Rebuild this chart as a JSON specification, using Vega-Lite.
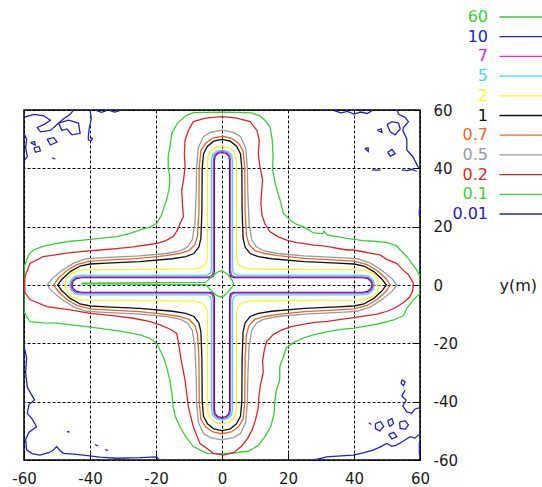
{
"$schema":"https://vega.github.io/schema/vega-lite/v6.json",
"width":396,"height":350,
"autosize":{"type":"none"},
"padding":{"left":24,"top":110,"right":122,"bottom":27},
"background":"white",
"config":{"font":"DejaVu Sans","view":{"stroke":"#000","strokeWidth":1.5}},
"data":{"values":[
{"c":"0.01","s":"n1","x":-60,"y":57.5},{"c":"0.01","s":"n1","x":-57,"y":58.5},{"c":"0.01","s":"n1","x":-54,"y":58},{"c":"0.01","s":"n1","x":-52,"y":56.5},{"c":"0.01","s":"n1","x":-54,"y":55},{"c":"0.01","s":"n1","x":-56,"y":54},{"c":"0.01","s":"n1","x":-55,"y":52.5},{"c":"0.01","s":"n1","x":-52,"y":53},{"c":"0.01","s":"n1","x":-50,"y":55},{"c":"0.01","s":"n1","x":-48,"y":57},{"c":"0.01","s":"n1","x":-46,"y":58.5},{"c":"0.01","s":"n1","x":-45,"y":60},
{"c":"0.01","s":"n2","x":-53,"y":50},{"c":"0.01","s":"n2","x":-51,"y":50.5},{"c":"0.01","s":"n2","x":-50,"y":49},{"c":"0.01","s":"n2","x":-52,"y":48},{"c":"0.01","s":"n2","x":-53,"y":50},
{"c":"0.01","s":"n3","x":-57,"y":47},{"c":"0.01","s":"n3","x":-55.5,"y":47.5},{"c":"0.01","s":"n3","x":-55,"y":46},{"c":"0.01","s":"n3","x":-56.5,"y":45.5},{"c":"0.01","s":"n3","x":-57,"y":47},
{"c":"0.01","s":"n4","x":-60,"y":52},{"c":"0.01","s":"n4","x":-59.2,"y":50},{"c":"0.01","s":"n4","x":-59.5,"y":47},{"c":"0.01","s":"n4","x":-59,"y":44},{"c":"0.01","s":"n4","x":-60,"y":42.5},
{"c":"0.01","s":"n5","x":-49.5,"y":55.5},{"c":"0.01","s":"n5","x":-46.5,"y":56.5},{"c":"0.01","s":"n5","x":-43.5,"y":55.5},{"c":"0.01","s":"n5","x":-43,"y":52},{"c":"0.01","s":"n5","x":-45.5,"y":51.5},{"c":"0.01","s":"n5","x":-47,"y":53.5},{"c":"0.01","s":"n5","x":-48.5,"y":53},{"c":"0.01","s":"n5","x":-49.5,"y":55.5},
{"c":"0.01","s":"n6","x":-38,"y":59.8},{"c":"0.01","s":"n6","x":-36.5,"y":59.2},{"c":"0.01","s":"n6","x":-35,"y":59.8},
{"c":"0.01","s":"n7","x":-34,"y":59.8},{"c":"0.01","s":"n7","x":-32.5,"y":59.3},{"c":"0.01","s":"n7","x":-31,"y":59.8},
{"c":"0.01","s":"n23","x":-40,"y":60},{"c":"0.01","s":"n23","x":-39.6,"y":57},{"c":"0.01","s":"n23","x":-40.2,"y":54},{"c":"0.01","s":"n23","x":-40.5,"y":51},{"c":"0.01","s":"n23","x":-40.5,"y":49.7},{"c":"0.01","s":"n23","x":-39.5,"y":49.5},{"c":"0.01","s":"n23","x":-39.3,"y":50.3},{"c":"0.01","s":"n23","x":-40,"y":50.6},
{"c":"0.01","s":"n24","x":-58,"y":48.8},{"c":"0.01","s":"n24","x":-56.8,"y":49.2},{"c":"0.01","s":"n24","x":-56.6,"y":48},{"c":"0.01","s":"n24","x":-58,"y":48.8},
{"c":"0.01","s":"n25","x":-51.5,"y":43.6},{"c":"0.01","s":"n25","x":-50.5,"y":43.2},
{"c":"0.01","s":"t1","x":34,"y":59.8},{"c":"0.01","s":"t1","x":36,"y":59},{"c":"0.01","s":"t1","x":38,"y":59.5},{"c":"0.01","s":"t1","x":40,"y":58.6},{"c":"0.01","s":"t1","x":42,"y":59.3},{"c":"0.01","s":"t1","x":44,"y":58.8},{"c":"0.01","s":"t1","x":45.5,"y":59.8},
{"c":"0.01","s":"t2","x":50,"y":55},{"c":"0.01","s":"t2","x":51.5,"y":56},{"c":"0.01","s":"t2","x":53.5,"y":55.5},{"c":"0.01","s":"t2","x":54,"y":53.5},{"c":"0.01","s":"t2","x":52.5,"y":51.5},{"c":"0.01","s":"t2","x":51,"y":52.5},{"c":"0.01","s":"t2","x":50,"y":55},
{"c":"0.01","s":"t3","x":53,"y":60},{"c":"0.01","s":"t3","x":53.5,"y":58.5},{"c":"0.01","s":"t3","x":55.5,"y":57.5},{"c":"0.01","s":"t3","x":56.5,"y":56},{"c":"0.01","s":"t3","x":55,"y":54},{"c":"0.01","s":"t3","x":54.8,"y":53},{"c":"0.01","s":"t3","x":56,"y":50},{"c":"0.01","s":"t3","x":56,"y":46.3},{"c":"0.01","s":"t3","x":57.9,"y":43.9},{"c":"0.01","s":"t3","x":59.4,"y":40.5},{"c":"0.01","s":"t3","x":60,"y":40},
{"c":"0.01","s":"t4","x":43.3,"y":46.8},{"c":"0.01","s":"t4","x":44.3,"y":47},{"c":"0.01","s":"t4","x":44.3,"y":45.8},{"c":"0.01","s":"t4","x":43.3,"y":46.8},
{"c":"0.01","s":"t5","x":50.2,"y":45.5},{"c":"0.01","s":"t5","x":51.5,"y":46.5},{"c":"0.01","s":"t5","x":52.5,"y":45},{"c":"0.01","s":"t5","x":51,"y":44.2},{"c":"0.01","s":"t5","x":50.2,"y":45.5},
{"c":"0.01","s":"t6","x":45.5,"y":39.4},{"c":"0.01","s":"t6","x":48,"y":39.4},
{"c":"0.01","s":"t7","x":54.5,"y":39.5},{"c":"0.01","s":"t7","x":56,"y":39.2},{"c":"0.01","s":"t7","x":57.5,"y":39.6},{"c":"0.01","s":"t7","x":59,"y":39},
{"c":"0.01","s":"t8","x":59.8,"y":26},{"c":"0.01","s":"t8","x":59.8,"y":23.5},
{"c":"0.01","s":"t9","x":47,"y":53},{"c":"0.01","s":"t9","x":48.2,"y":53.5},{"c":"0.01","s":"t9","x":48.5,"y":52.3},{"c":"0.01","s":"t9","x":47,"y":53},
{"c":"0.01","s":"l1","x":-60,"y":-21},{"c":"0.01","s":"l1","x":-59.2,"y":-25},{"c":"0.01","s":"l1","x":-59.5,"y":-30},{"c":"0.01","s":"l1","x":-59,"y":-35},{"c":"0.01","s":"l1","x":-57.8,"y":-37.5},{"c":"0.01","s":"l1","x":-56.8,"y":-39.4},{"c":"0.01","s":"l1","x":-58.5,"y":-41},{"c":"0.01","s":"l1","x":-59,"y":-44},{"c":"0.01","s":"l1","x":-57.5,"y":-46},{"c":"0.01","s":"l1","x":-56.2,"y":-48.6},{"c":"0.01","s":"l1","x":-58.5,"y":-50.5},{"c":"0.01","s":"l1","x":-59.5,"y":-53},{"c":"0.01","s":"l1","x":-59.2,"y":-56.5},{"c":"0.01","s":"l1","x":-57.5,"y":-57.8},{"c":"0.01","s":"l1","x":-55.2,"y":-58.3},{"c":"0.01","s":"l1","x":-52.5,"y":-57.5},{"c":"0.01","s":"l1","x":-51.1,"y":-56.6},{"c":"0.01","s":"l1","x":-50.1,"y":-55.4},{"c":"0.01","s":"l1","x":-49,"y":-56.8},{"c":"0.01","s":"l1","x":-48.1,"y":-57.7},{"c":"0.01","s":"l1","x":-45,"y":-58},{"c":"0.01","s":"l1","x":-42,"y":-58.3},{"c":"0.01","s":"l1","x":-37,"y":-59},{"c":"0.01","s":"l1","x":-32,"y":-59.4},{"c":"0.01","s":"l1","x":-25,"y":-59.2},{"c":"0.01","s":"l1","x":-19.8,"y":-58.9},{"c":"0.01","s":"l1","x":-19,"y":-60},
{"c":"0.01","s":"l2","x":-38.5,"y":-54.7},{"c":"0.01","s":"l2","x":-37.5,"y":-55.2},
{"c":"0.01","s":"l3","x":-35.5,"y":-56.4},{"c":"0.01","s":"l3","x":-34.5,"y":-56.8},
{"c":"0.01","s":"l4","x":-47,"y":-50.3},{"c":"0.01","s":"l4","x":-46.2,"y":-50.4},
{"c":"0.01","s":"b1","x":28,"y":-60},{"c":"0.01","s":"b1","x":31.7,"y":-58.9},{"c":"0.01","s":"b1","x":36,"y":-58.6},{"c":"0.01","s":"b1","x":39.8,"y":-58.3},{"c":"0.01","s":"b1","x":43,"y":-57.5},{"c":"0.01","s":"b1","x":45.8,"y":-56.6},{"c":"0.01","s":"b1","x":48,"y":-55.5},{"c":"0.01","s":"b1","x":49.9,"y":-54.3},{"c":"0.01","s":"b1","x":51.5,"y":-55.3},{"c":"0.01","s":"b1","x":52.9,"y":-54.9},{"c":"0.01","s":"b1","x":55,"y":-53.5},{"c":"0.01","s":"b1","x":57,"y":-52},{"c":"0.01","s":"b1","x":58.5,"y":-52.5},{"c":"0.01","s":"b1","x":60,"y":-51},
{"c":"0.01","s":"b2","x":46.5,"y":-47.5},{"c":"0.01","s":"b2","x":48,"y":-46.8},{"c":"0.01","s":"b2","x":49,"y":-48.5},{"c":"0.01","s":"b2","x":47.8,"y":-50},{"c":"0.01","s":"b2","x":46.5,"y":-49.2},{"c":"0.01","s":"b2","x":46.5,"y":-47.5},
{"c":"0.01","s":"b3","x":50.2,"y":-46.5},{"c":"0.01","s":"b3","x":51.5,"y":-45.8},{"c":"0.01","s":"b3","x":52,"y":-47.5},{"c":"0.01","s":"b3","x":50.8,"y":-48.5},{"c":"0.01","s":"b3","x":50.2,"y":-46.5},
{"c":"0.01","s":"b4","x":53.8,"y":-47},{"c":"0.01","s":"b4","x":55.5,"y":-46.5},{"c":"0.01","s":"b4","x":56.5,"y":-48},{"c":"0.01","s":"b4","x":55.5,"y":-49.5},{"c":"0.01","s":"b4","x":54,"y":-49.2},{"c":"0.01","s":"b4","x":53.8,"y":-47},
{"c":"0.01","s":"b5","x":54.5,"y":-32.5},{"c":"0.01","s":"b5","x":55.5,"y":-33.2},{"c":"0.01","s":"b5","x":55,"y":-34.5},{"c":"0.01","s":"b5","x":54.3,"y":-33.8},{"c":"0.01","s":"b5","x":54.5,"y":-32.5},
{"c":"0.01","s":"b6","x":55.5,"y":-36},{"c":"0.01","s":"b6","x":54.5,"y":-38},{"c":"0.01","s":"b6","x":55.8,"y":-39.5},{"c":"0.01","s":"b6","x":54.8,"y":-41.5},{"c":"0.01","s":"b6","x":56,"y":-43.5},{"c":"0.01","s":"b6","x":57.5,"y":-44},{"c":"0.01","s":"b6","x":58.5,"y":-42.5},{"c":"0.01","s":"b6","x":60,"y":-42},
{"c":"0.01","s":"b7","x":44.5,"y":-47.2},{"c":"0.01","s":"b7","x":45.2,"y":-47.8},
{"c":"0.01","s":"b8","x":50.5,"y":-51.2},{"c":"0.01","s":"b8","x":52,"y":-50.5},{"c":"0.01","s":"b8","x":53,"y":-52},{"c":"0.01","s":"b8","x":51.5,"y":-52.8},{"c":"0.01","s":"b8","x":50.5,"y":-51.2},
{"c":"0.01","s":"b9","x":59.8,"y":-54},{"c":"0.01","s":"b9","x":59.8,"y":-58},

{"c":"0.1","s":"g","x":0,"y":59.3},{"c":"0.1","s":"g","x":5,"y":59.2},{"c":"0.1","s":"g","x":9,"y":59},{"c":"0.1","s":"g","x":11.5,"y":58},{"c":"0.1","s":"g","x":13,"y":56.5},{"c":"0.1","s":"g","x":14.5,"y":54.3},{"c":"0.1","s":"g","x":15.2,"y":50},{"c":"0.1","s":"g","x":15.5,"y":44},{"c":"0.1","s":"g","x":15.3,"y":40},{"c":"0.1","s":"g","x":16.1,"y":34.9},{"c":"0.1","s":"g","x":17.6,"y":29.1},{"c":"0.1","s":"g","x":18.6,"y":24.6},{"c":"0.1","s":"g","x":20.6,"y":22.3},{"c":"0.1","s":"g","x":22.6,"y":20.8},{"c":"0.1","s":"g","x":24.6,"y":20},{"c":"0.1","s":"g","x":27.7,"y":17.9},{"c":"0.1","s":"g","x":30.5,"y":17.6},{"c":"0.1","s":"g","x":31,"y":18.5},{"c":"0.1","s":"g","x":31.7,"y":17.3},{"c":"0.1","s":"g","x":34.8,"y":16.6},{"c":"0.1","s":"g","x":37.8,"y":16},{"c":"0.1","s":"g","x":42.8,"y":15.2},{"c":"0.1","s":"g","x":46,"y":15},{"c":"0.1","s":"g","x":49.9,"y":14.6},{"c":"0.1","s":"g","x":52.9,"y":13.4},{"c":"0.1","s":"g","x":54,"y":12},{"c":"0.1","s":"g","x":56,"y":9.7},{"c":"0.1","s":"g","x":57.5,"y":7.4},{"c":"0.1","s":"g","x":59,"y":5.1},{"c":"0.1","s":"g","x":60,"y":3},{"c":"0.1","s":"g","x":60,"y":-2.9},{"c":"0.1","s":"g","x":58,"y":-5.1},{"c":"0.1","s":"g","x":56,"y":-8},{"c":"0.1","s":"g","x":55,"y":-10.5},{"c":"0.1","s":"g","x":52,"y":-12},{"c":"0.1","s":"g","x":48,"y":-13.2},{"c":"0.1","s":"g","x":44,"y":-14},{"c":"0.1","s":"g","x":40,"y":-14.8},{"c":"0.1","s":"g","x":36,"y":-15.2},{"c":"0.1","s":"g","x":32,"y":-16},{"c":"0.1","s":"g","x":28,"y":-17},{"c":"0.1","s":"g","x":25,"y":-18},{"c":"0.1","s":"g","x":22,"y":-19.5},{"c":"0.1","s":"g","x":19.5,"y":-21.5},{"c":"0.1","s":"g","x":18.5,"y":-25},{"c":"0.1","s":"g","x":17.5,"y":-28},{"c":"0.1","s":"g","x":17.5,"y":-32.6},{"c":"0.1","s":"g","x":16.5,"y":-36},{"c":"0.1","s":"g","x":16,"y":-40},{"c":"0.1","s":"g","x":15.8,"y":-44},{"c":"0.1","s":"g","x":14.8,"y":-48.5},{"c":"0.1","s":"g","x":13,"y":-52},{"c":"0.1","s":"g","x":11,"y":-55},{"c":"0.1","s":"g","x":8,"y":-57},{"c":"0.1","s":"g","x":3.4,"y":-57.6},{"c":"0.1","s":"g","x":0,"y":-57.8},{"c":"0.1","s":"g","x":-4.6,"y":-57.7},{"c":"0.1","s":"g","x":-8.7,"y":-55.4},{"c":"0.1","s":"g","x":-11,"y":-52},{"c":"0.1","s":"g","x":-12.7,"y":-48.6},{"c":"0.1","s":"g","x":-14.2,"y":-45},{"c":"0.1","s":"g","x":-14.8,"y":-41.7},{"c":"0.1","s":"g","x":-15.2,"y":-37},{"c":"0.1","s":"g","x":-15.8,"y":-32.6},{"c":"0.1","s":"g","x":-16.8,"y":-28},{"c":"0.1","s":"g","x":-17.8,"y":-24.6},{"c":"0.1","s":"g","x":-19.8,"y":-20},{"c":"0.1","s":"g","x":-22,"y":-18.2},{"c":"0.1","s":"g","x":-24.8,"y":-17.1},{"c":"0.1","s":"g","x":-30,"y":-16},{"c":"0.1","s":"g","x":-37,"y":-14.9},{"c":"0.1","s":"g","x":-43,"y":-14},{"c":"0.1","s":"g","x":-50.1,"y":-13.1},{"c":"0.1","s":"g","x":-54,"y":-13},{"c":"0.1","s":"g","x":-58.2,"y":-12.6},{"c":"0.1","s":"g","x":-59.2,"y":-10.9},{"c":"0.1","s":"g","x":-60,"y":-9},{"c":"0.1","s":"g","x":-60,"y":6},{"c":"0.1","s":"g","x":-59.2,"y":8.6},{"c":"0.1","s":"g","x":-58.5,"y":10.5},{"c":"0.1","s":"g","x":-57.2,"y":12},{"c":"0.1","s":"g","x":-54,"y":13.3},{"c":"0.1","s":"g","x":-50.1,"y":14.3},{"c":"0.1","s":"g","x":-46,"y":15},{"c":"0.1","s":"g","x":-42,"y":15.4},{"c":"0.1","s":"g","x":-37,"y":16},{"c":"0.1","s":"g","x":-31.9,"y":16.6},{"c":"0.1","s":"g","x":-28,"y":17.6},{"c":"0.1","s":"g","x":-24.8,"y":18.9},{"c":"0.1","s":"g","x":-21.8,"y":19.9},{"c":"0.1","s":"g","x":-19.8,"y":21.1},{"c":"0.1","s":"g","x":-18.3,"y":24},{"c":"0.1","s":"g","x":-17.5,"y":27},{"c":"0.1","s":"g","x":-16.8,"y":29.1},{"c":"0.1","s":"g","x":-16,"y":33},{"c":"0.1","s":"g","x":-15.8,"y":37.1},{"c":"0.1","s":"g","x":-16.3,"y":40.5},{"c":"0.1","s":"g","x":-16.3,"y":44},{"c":"0.1","s":"g","x":-15.7,"y":48},{"c":"0.1","s":"g","x":-15.2,"y":52},{"c":"0.1","s":"g","x":-13.5,"y":55.5},{"c":"0.1","s":"g","x":-11,"y":58},{"c":"0.1","s":"g","x":-8.7,"y":59.1},{"c":"0.1","s":"g","x":-4,"y":59.2},{"c":"0.1","s":"g","x":0,"y":59.3},

{"c":"0.2","s":"r","x":0,"y":57.7},{"c":"0.2","s":"r","x":4.5,"y":57.2},{"c":"0.2","s":"r","x":8.5,"y":56},{"c":"0.2","s":"r","x":10.6,"y":53},{"c":"0.2","s":"r","x":11.3,"y":49.5},{"c":"0.2","s":"r","x":11,"y":45},{"c":"0.2","s":"r","x":11.5,"y":40.6},{"c":"0.2","s":"r","x":12.3,"y":36},{"c":"0.2","s":"r","x":12,"y":32},{"c":"0.2","s":"r","x":11.8,"y":28},{"c":"0.2","s":"r","x":12.1,"y":24},{"c":"0.2","s":"r","x":13,"y":21},{"c":"0.2","s":"r","x":14.5,"y":18.3},{"c":"0.2","s":"r","x":17,"y":16.5},{"c":"0.2","s":"r","x":19.6,"y":15.4},{"c":"0.2","s":"r","x":22.6,"y":14.5},{"c":"0.2","s":"r","x":24.6,"y":14.3},{"c":"0.2","s":"r","x":27.7,"y":13.7},{"c":"0.2","s":"r","x":30,"y":13.5},{"c":"0.2","s":"r","x":32.7,"y":13.1},{"c":"0.2","s":"r","x":34.8,"y":12.6},{"c":"0.2","s":"r","x":37.8,"y":12},{"c":"0.2","s":"r","x":39.8,"y":12},{"c":"0.2","s":"r","x":42.8,"y":11.4},{"c":"0.2","s":"r","x":44.8,"y":10.9},{"c":"0.2","s":"r","x":47.9,"y":10.3},{"c":"0.2","s":"r","x":49.9,"y":8.8},{"c":"0.2","s":"r","x":52.9,"y":7.4},{"c":"0.2","s":"r","x":54.9,"y":5.1},{"c":"0.2","s":"r","x":56.5,"y":3.5},{"c":"0.2","s":"r","x":58,"y":0.6},{"c":"0.2","s":"r","x":57.8,"y":-2},{"c":"0.2","s":"r","x":56.8,"y":-4.2},{"c":"0.2","s":"r","x":55,"y":-6},{"c":"0.2","s":"r","x":52.5,"y":-7.8},{"c":"0.2","s":"r","x":50,"y":-9},{"c":"0.2","s":"r","x":47,"y":-10},{"c":"0.2","s":"r","x":44,"y":-10.5},{"c":"0.2","s":"r","x":40,"y":-11.2},{"c":"0.2","s":"r","x":36,"y":-11.8},{"c":"0.2","s":"r","x":32,"y":-12.5},{"c":"0.2","s":"r","x":28,"y":-12.8},{"c":"0.2","s":"r","x":24.5,"y":-13.5},{"c":"0.2","s":"r","x":21,"y":-14.3},{"c":"0.2","s":"r","x":18,"y":-15.5},{"c":"0.2","s":"r","x":15.5,"y":-17},{"c":"0.2","s":"r","x":13.5,"y":-19.5},{"c":"0.2","s":"r","x":12.8,"y":-22.5},{"c":"0.2","s":"r","x":12.3,"y":-26},{"c":"0.2","s":"r","x":12.5,"y":-30},{"c":"0.2","s":"r","x":11.7,"y":-34},{"c":"0.2","s":"r","x":11.2,"y":-38},{"c":"0.2","s":"r","x":11,"y":-42},{"c":"0.2","s":"r","x":10.2,"y":-46},{"c":"0.2","s":"r","x":9.2,"y":-49.5},{"c":"0.2","s":"r","x":7.8,"y":-52.5},{"c":"0.2","s":"r","x":6,"y":-55.2},{"c":"0.2","s":"r","x":3.5,"y":-57.5},{"c":"0.2","s":"r","x":0.4,"y":-58.3},{"c":"0.2","s":"r","x":-2.6,"y":-57.7},{"c":"0.2","s":"r","x":-6.7,"y":-54.3},{"c":"0.2","s":"r","x":-8.7,"y":-48.6},{"c":"0.2","s":"r","x":-10.2,"y":-41.7},{"c":"0.2","s":"r","x":-11.2,"y":-32.6},{"c":"0.2","s":"r","x":-12,"y":-28},{"c":"0.2","s":"r","x":-12.7,"y":-23.4},{"c":"0.2","s":"r","x":-13.7,"y":-16.6},{"c":"0.2","s":"r","x":-16,"y":-15},{"c":"0.2","s":"r","x":-18.8,"y":-13.7},{"c":"0.2","s":"r","x":-22,"y":-12.5},{"c":"0.2","s":"r","x":-26.9,"y":-11.4},{"c":"0.2","s":"r","x":-33,"y":-10.5},{"c":"0.2","s":"r","x":-40,"y":-9.7},{"c":"0.2","s":"r","x":-46,"y":-8.5},{"c":"0.2","s":"r","x":-53.1,"y":-7.4},{"c":"0.2","s":"r","x":-58.2,"y":-5},{"c":"0.2","s":"r","x":-59.7,"y":-2.7},{"c":"0.2","s":"r","x":-59.8,"y":0},{"c":"0.2","s":"r","x":-59.7,"y":2.9},{"c":"0.2","s":"r","x":-58.2,"y":7.4},{"c":"0.2","s":"r","x":-54.2,"y":9.7},{"c":"0.2","s":"r","x":-47.1,"y":10.9},{"c":"0.2","s":"r","x":-42,"y":11.5},{"c":"0.2","s":"r","x":-37,"y":12},{"c":"0.2","s":"r","x":-32,"y":12.5},{"c":"0.2","s":"r","x":-26.9,"y":13.1},{"c":"0.2","s":"r","x":-22.5,"y":13.8},{"c":"0.2","s":"r","x":-19.8,"y":14.3},{"c":"0.2","s":"r","x":-17,"y":15.2},{"c":"0.2","s":"r","x":-14.8,"y":16.6},{"c":"0.2","s":"r","x":-13.5,"y":18.8},{"c":"0.2","s":"r","x":-12.7,"y":21.1},{"c":"0.2","s":"r","x":-11.7,"y":23.4},{"c":"0.2","s":"r","x":-12,"y":28},{"c":"0.2","s":"r","x":-12.2,"y":32.6},{"c":"0.2","s":"r","x":-11.6,"y":36.5},{"c":"0.2","s":"r","x":-11.2,"y":40.6},{"c":"0.2","s":"r","x":-11.4,"y":45},{"c":"0.2","s":"r","x":-11.2,"y":49.7},{"c":"0.2","s":"r","x":-10.2,"y":53},{"c":"0.2","s":"r","x":-8.7,"y":56},{"c":"0.2","s":"r","x":-5,"y":57.2},{"c":"0.2","s":"r","x":0,"y":57.7},

{"c":"0.5","s":"gy","x":0,"y":53.1},{"c":"0.5","s":"gy","x":3.5,"y":52.3},{"c":"0.5","s":"gy","x":5.6,"y":50.9},{"c":"0.5","s":"gy","x":7.2,"y":47},{"c":"0.5","s":"gy","x":7.7,"y":40},{"c":"0.5","s":"gy","x":7.8,"y":32.6},{"c":"0.5","s":"gy","x":8.2,"y":21.1},{"c":"0.5","s":"gy","x":9,"y":15.5},{"c":"0.5","s":"gy","x":10.5,"y":13},{"c":"0.5","s":"gy","x":12.5,"y":11.8},{"c":"0.5","s":"gy","x":16.8,"y":10.8},{"c":"0.5","s":"gy","x":25,"y":10},{"c":"0.5","s":"gy","x":37,"y":9.3},{"c":"0.5","s":"gy","x":41,"y":9},{"c":"0.5","s":"gy","x":45,"y":7.5},{"c":"0.5","s":"gy","x":48.5,"y":5},{"c":"0.5","s":"gy","x":51.5,"y":2.2},{"c":"0.5","s":"gy","x":53,"y":0},
{"c":"0.5","s":"gy","x":51.5,"y":-2.2},{"c":"0.5","s":"gy","x":48.5,"y":-5},{"c":"0.5","s":"gy","x":45,"y":-7.5},{"c":"0.5","s":"gy","x":41,"y":-9},{"c":"0.5","s":"gy","x":37,"y":-9.3},{"c":"0.5","s":"gy","x":25,"y":-10},{"c":"0.5","s":"gy","x":16.8,"y":-10.8},{"c":"0.5","s":"gy","x":12.5,"y":-11.8},{"c":"0.5","s":"gy","x":10.5,"y":-13},{"c":"0.5","s":"gy","x":9,"y":-15.5},{"c":"0.5","s":"gy","x":8.2,"y":-21.1},{"c":"0.5","s":"gy","x":7.8,"y":-32.6},{"c":"0.5","s":"gy","x":7.7,"y":-40},{"c":"0.5","s":"gy","x":7.2,"y":-47},{"c":"0.5","s":"gy","x":5.6,"y":-50.9},{"c":"0.5","s":"gy","x":3.5,"y":-52.3},{"c":"0.5","s":"gy","x":0,"y":-53.1},
{"c":"0.5","s":"gy","x":-3.5,"y":-52.3},{"c":"0.5","s":"gy","x":-5.6,"y":-50.9},{"c":"0.5","s":"gy","x":-7.2,"y":-47},{"c":"0.5","s":"gy","x":-7.7,"y":-40},{"c":"0.5","s":"gy","x":-7.8,"y":-32.6},{"c":"0.5","s":"gy","x":-8.2,"y":-21.1},{"c":"0.5","s":"gy","x":-9,"y":-15.5},{"c":"0.5","s":"gy","x":-10.5,"y":-13},{"c":"0.5","s":"gy","x":-12.5,"y":-11.8},{"c":"0.5","s":"gy","x":-16.8,"y":-10.8},{"c":"0.5","s":"gy","x":-25,"y":-10},{"c":"0.5","s":"gy","x":-37,"y":-9.3},{"c":"0.5","s":"gy","x":-41,"y":-9},{"c":"0.5","s":"gy","x":-45,"y":-7.5},{"c":"0.5","s":"gy","x":-48.5,"y":-5},{"c":"0.5","s":"gy","x":-51.5,"y":-2.2},{"c":"0.5","s":"gy","x":-53,"y":0},
{"c":"0.5","s":"gy","x":-51.5,"y":2.2},{"c":"0.5","s":"gy","x":-48.5,"y":5},{"c":"0.5","s":"gy","x":-45,"y":7.5},{"c":"0.5","s":"gy","x":-41,"y":9},{"c":"0.5","s":"gy","x":-37,"y":9.3},{"c":"0.5","s":"gy","x":-25,"y":10},{"c":"0.5","s":"gy","x":-16.8,"y":10.8},{"c":"0.5","s":"gy","x":-12.5,"y":11.8},{"c":"0.5","s":"gy","x":-10.5,"y":13},{"c":"0.5","s":"gy","x":-9,"y":15.5},{"c":"0.5","s":"gy","x":-8.2,"y":21.1},{"c":"0.5","s":"gy","x":-7.8,"y":32.6},{"c":"0.5","s":"gy","x":-7.7,"y":40},{"c":"0.5","s":"gy","x":-7.2,"y":47},{"c":"0.5","s":"gy","x":-5.6,"y":50.9},{"c":"0.5","s":"gy","x":-3.5,"y":52.3},{"c":"0.5","s":"gy","x":0,"y":53.1},

{"c":"0.7","s":"o","x":0,"y":51},{"c":"0.7","s":"o","x":2.8,"y":50.4},{"c":"0.7","s":"o","x":5,"y":48.6},{"c":"0.7","s":"o","x":6.4,"y":46},{"c":"0.7","s":"o","x":6.9,"y":40},{"c":"0.7","s":"o","x":7,"y":25},{"c":"0.7","s":"o","x":7.4,"y":17},{"c":"0.7","s":"o","x":8.2,"y":13.8},{"c":"0.7","s":"o","x":10,"y":11.8},{"c":"0.7","s":"o","x":13,"y":10.8},{"c":"0.7","s":"o","x":17,"y":10.1},{"c":"0.7","s":"o","x":25,"y":9.1},{"c":"0.7","s":"o","x":35,"y":8.5},{"c":"0.7","s":"o","x":40,"y":8.2},{"c":"0.7","s":"o","x":44,"y":7},{"c":"0.7","s":"o","x":47,"y":5},{"c":"0.7","s":"o","x":49.6,"y":2.3},{"c":"0.7","s":"o","x":51,"y":0},
{"c":"0.7","s":"o","x":49.6,"y":-2.3},{"c":"0.7","s":"o","x":47,"y":-5},{"c":"0.7","s":"o","x":44,"y":-7},{"c":"0.7","s":"o","x":40,"y":-8.2},{"c":"0.7","s":"o","x":35,"y":-8.5},{"c":"0.7","s":"o","x":25,"y":-9.1},{"c":"0.7","s":"o","x":17,"y":-10.1},{"c":"0.7","s":"o","x":13,"y":-10.8},{"c":"0.7","s":"o","x":10,"y":-11.8},{"c":"0.7","s":"o","x":8.2,"y":-13.8},{"c":"0.7","s":"o","x":7.4,"y":-17},{"c":"0.7","s":"o","x":7,"y":-25},{"c":"0.7","s":"o","x":6.9,"y":-40},{"c":"0.7","s":"o","x":6.4,"y":-46},{"c":"0.7","s":"o","x":5,"y":-48.6},{"c":"0.7","s":"o","x":2.8,"y":-50.4},{"c":"0.7","s":"o","x":0,"y":-51},
{"c":"0.7","s":"o","x":-2.8,"y":-50.4},{"c":"0.7","s":"o","x":-5,"y":-48.6},{"c":"0.7","s":"o","x":-6.4,"y":-46},{"c":"0.7","s":"o","x":-6.9,"y":-40},{"c":"0.7","s":"o","x":-7,"y":-25},{"c":"0.7","s":"o","x":-7.4,"y":-17},{"c":"0.7","s":"o","x":-8.2,"y":-13.8},{"c":"0.7","s":"o","x":-10,"y":-11.8},{"c":"0.7","s":"o","x":-13,"y":-10.8},{"c":"0.7","s":"o","x":-17,"y":-10.1},{"c":"0.7","s":"o","x":-25,"y":-9.1},{"c":"0.7","s":"o","x":-35,"y":-8.5},{"c":"0.7","s":"o","x":-40,"y":-8.2},{"c":"0.7","s":"o","x":-44,"y":-7},{"c":"0.7","s":"o","x":-47,"y":-5},{"c":"0.7","s":"o","x":-49.6,"y":-2.3},{"c":"0.7","s":"o","x":-51,"y":0},
{"c":"0.7","s":"o","x":-49.6,"y":2.3},{"c":"0.7","s":"o","x":-47,"y":5},{"c":"0.7","s":"o","x":-44,"y":7},{"c":"0.7","s":"o","x":-40,"y":8.2},{"c":"0.7","s":"o","x":-35,"y":8.5},{"c":"0.7","s":"o","x":-25,"y":9.1},{"c":"0.7","s":"o","x":-17,"y":10.1},{"c":"0.7","s":"o","x":-13,"y":10.8},{"c":"0.7","s":"o","x":-10,"y":11.8},{"c":"0.7","s":"o","x":-8.2,"y":13.8},{"c":"0.7","s":"o","x":-7.4,"y":17},{"c":"0.7","s":"o","x":-7,"y":25},{"c":"0.7","s":"o","x":-6.9,"y":40},{"c":"0.7","s":"o","x":-6.4,"y":46},{"c":"0.7","s":"o","x":-5,"y":48.6},{"c":"0.7","s":"o","x":-2.8,"y":50.4},{"c":"0.7","s":"o","x":0,"y":51},

{"c":"1","s":"k","x":0,"y":49.9},{"c":"1","s":"k","x":2.5,"y":49.3},{"c":"1","s":"k","x":4.4,"y":47.6},{"c":"1","s":"k","x":5.6,"y":45},{"c":"1","s":"k","x":6,"y":40},{"c":"1","s":"k","x":6.1,"y":25},{"c":"1","s":"k","x":6.4,"y":16},{"c":"1","s":"k","x":7,"y":13},{"c":"1","s":"k","x":8.5,"y":10.8},{"c":"1","s":"k","x":11,"y":9.7},{"c":"1","s":"k","x":15,"y":9},{"c":"1","s":"k","x":25,"y":8},{"c":"1","s":"k","x":35,"y":7.5},{"c":"1","s":"k","x":40,"y":7.2},{"c":"1","s":"k","x":43,"y":6.5},{"c":"1","s":"k","x":46,"y":4.6},{"c":"1","s":"k","x":48.5,"y":2},{"c":"1","s":"k","x":49.8,"y":0},
{"c":"1","s":"k","x":48.5,"y":-2},{"c":"1","s":"k","x":46,"y":-4.6},{"c":"1","s":"k","x":43,"y":-6.5},{"c":"1","s":"k","x":40,"y":-7.2},{"c":"1","s":"k","x":35,"y":-7.5},{"c":"1","s":"k","x":25,"y":-8},{"c":"1","s":"k","x":15,"y":-9},{"c":"1","s":"k","x":11,"y":-9.7},{"c":"1","s":"k","x":8.5,"y":-10.8},{"c":"1","s":"k","x":7,"y":-13},{"c":"1","s":"k","x":6.4,"y":-16},{"c":"1","s":"k","x":6.1,"y":-25},{"c":"1","s":"k","x":6,"y":-40},{"c":"1","s":"k","x":5.6,"y":-45},{"c":"1","s":"k","x":4.4,"y":-47.6},{"c":"1","s":"k","x":2.5,"y":-49.3},{"c":"1","s":"k","x":0,"y":-49.9},
{"c":"1","s":"k","x":-2.5,"y":-49.3},{"c":"1","s":"k","x":-4.4,"y":-47.6},{"c":"1","s":"k","x":-5.6,"y":-45},{"c":"1","s":"k","x":-6,"y":-40},{"c":"1","s":"k","x":-6.1,"y":-25},{"c":"1","s":"k","x":-6.4,"y":-16},{"c":"1","s":"k","x":-7,"y":-13},{"c":"1","s":"k","x":-8.5,"y":-10.8},{"c":"1","s":"k","x":-11,"y":-9.7},{"c":"1","s":"k","x":-15,"y":-9},{"c":"1","s":"k","x":-25,"y":-8},{"c":"1","s":"k","x":-35,"y":-7.5},{"c":"1","s":"k","x":-40,"y":-7.2},{"c":"1","s":"k","x":-43,"y":-6.5},{"c":"1","s":"k","x":-46,"y":-4.6},{"c":"1","s":"k","x":-48.5,"y":-2},{"c":"1","s":"k","x":-49.8,"y":0},
{"c":"1","s":"k","x":-48.5,"y":2},{"c":"1","s":"k","x":-46,"y":4.6},{"c":"1","s":"k","x":-43,"y":6.5},{"c":"1","s":"k","x":-40,"y":7.2},{"c":"1","s":"k","x":-35,"y":7.5},{"c":"1","s":"k","x":-25,"y":8},{"c":"1","s":"k","x":-15,"y":9},{"c":"1","s":"k","x":-11,"y":9.7},{"c":"1","s":"k","x":-8.5,"y":10.8},{"c":"1","s":"k","x":-7,"y":13},{"c":"1","s":"k","x":-6.4,"y":16},{"c":"1","s":"k","x":-6.1,"y":25},{"c":"1","s":"k","x":-6,"y":40},{"c":"1","s":"k","x":-5.6,"y":45},{"c":"1","s":"k","x":-4.4,"y":47.6},{"c":"1","s":"k","x":-2.5,"y":49.3},{"c":"1","s":"k","x":0,"y":49.9},

{"c":"2","s":"y","x":0,"y":47.6},{"c":"2","s":"y","x":2.2,"y":47.1},{"c":"2","s":"y","x":3.7,"y":45.6},{"c":"2","s":"y","x":4.3,"y":43.5},{"c":"2","s":"y","x":4.4,"y":41},{"c":"2","s":"y","x":4.4,"y":9.5},{"c":"2","s":"y","x":4.8,"y":7.5},{"c":"2","s":"y","x":6,"y":6.2},{"c":"2","s":"y","x":8,"y":5.5},{"c":"2","s":"y","x":41,"y":5.2},{"c":"2","s":"y","x":43.5,"y":4.9},{"c":"2","s":"y","x":45.6,"y":4.1},{"c":"2","s":"y","x":47.1,"y":2.3},{"c":"2","s":"y","x":47.6,"y":0},
{"c":"2","s":"y","x":47.1,"y":-2.3},{"c":"2","s":"y","x":45.6,"y":-4.1},{"c":"2","s":"y","x":43.5,"y":-4.9},{"c":"2","s":"y","x":41,"y":-5.2},{"c":"2","s":"y","x":8,"y":-5.5},{"c":"2","s":"y","x":6,"y":-6.2},{"c":"2","s":"y","x":4.8,"y":-7.5},{"c":"2","s":"y","x":4.4,"y":-9.5},{"c":"2","s":"y","x":4.4,"y":-41},{"c":"2","s":"y","x":4.3,"y":-43.5},{"c":"2","s":"y","x":3.7,"y":-45.6},{"c":"2","s":"y","x":2.2,"y":-47.1},{"c":"2","s":"y","x":0,"y":-47.6},
{"c":"2","s":"y","x":-2.2,"y":-47.1},{"c":"2","s":"y","x":-3.7,"y":-45.6},{"c":"2","s":"y","x":-4.3,"y":-43.5},{"c":"2","s":"y","x":-4.4,"y":-41},{"c":"2","s":"y","x":-4.4,"y":-9.5},{"c":"2","s":"y","x":-4.8,"y":-7.5},{"c":"2","s":"y","x":-6,"y":-6.2},{"c":"2","s":"y","x":-8,"y":-5.5},{"c":"2","s":"y","x":-41,"y":-5.2},{"c":"2","s":"y","x":-43.5,"y":-4.9},{"c":"2","s":"y","x":-45.6,"y":-4.1},{"c":"2","s":"y","x":-47.1,"y":-2.3},{"c":"2","s":"y","x":-47.6,"y":0},
{"c":"2","s":"y","x":-47.1,"y":2.3},{"c":"2","s":"y","x":-45.6,"y":4.1},{"c":"2","s":"y","x":-43.5,"y":4.9},{"c":"2","s":"y","x":-41,"y":5.2},{"c":"2","s":"y","x":-8,"y":5.5},{"c":"2","s":"y","x":-6,"y":6.2},{"c":"2","s":"y","x":-4.8,"y":7.5},{"c":"2","s":"y","x":-4.4,"y":9.5},{"c":"2","s":"y","x":-4.4,"y":41},{"c":"2","s":"y","x":-4.3,"y":43.5},{"c":"2","s":"y","x":-3.7,"y":45.6},{"c":"2","s":"y","x":-2.2,"y":47.1},{"c":"2","s":"y","x":0,"y":47.6},

{"c":"5","s":"cy","x":0,"y":46.2},{"c":"5","s":"cy","x":1.7,"y":45.8},{"c":"5","s":"cy","x":2.9,"y":44.6},{"c":"5","s":"cy","x":3.2,"y":42.5},{"c":"5","s":"cy","x":3.2,"y":5.5},{"c":"5","s":"cy","x":3.5,"y":4.1},{"c":"5","s":"cy","x":4.5,"y":3.4},{"c":"5","s":"cy","x":42.5,"y":3.4},{"c":"5","s":"cy","x":44.6,"y":3},{"c":"5","s":"cy","x":45.8,"y":1.7},{"c":"5","s":"cy","x":46.2,"y":0},
{"c":"5","s":"cy","x":45.8,"y":-1.7},{"c":"5","s":"cy","x":44.6,"y":-3},{"c":"5","s":"cy","x":42.5,"y":-3.4},{"c":"5","s":"cy","x":4.5,"y":-3.4},{"c":"5","s":"cy","x":3.5,"y":-4.1},{"c":"5","s":"cy","x":3.2,"y":-5.5},{"c":"5","s":"cy","x":3.2,"y":-42.5},{"c":"5","s":"cy","x":2.9,"y":-44.6},{"c":"5","s":"cy","x":1.7,"y":-45.8},{"c":"5","s":"cy","x":0,"y":-46.2},
{"c":"5","s":"cy","x":-1.7,"y":-45.8},{"c":"5","s":"cy","x":-2.9,"y":-44.6},{"c":"5","s":"cy","x":-3.2,"y":-42.5},{"c":"5","s":"cy","x":-3.2,"y":-5.5},{"c":"5","s":"cy","x":-3.5,"y":-4.1},{"c":"5","s":"cy","x":-4.5,"y":-3.4},{"c":"5","s":"cy","x":-42.5,"y":-3.4},{"c":"5","s":"cy","x":-44.6,"y":-3},{"c":"5","s":"cy","x":-45.8,"y":-1.7},{"c":"5","s":"cy","x":-46.2,"y":0},
{"c":"5","s":"cy","x":-45.8,"y":1.7},{"c":"5","s":"cy","x":-44.6,"y":3},{"c":"5","s":"cy","x":-42.5,"y":3.4},{"c":"5","s":"cy","x":-4.5,"y":3.4},{"c":"5","s":"cy","x":-3.5,"y":4.1},{"c":"5","s":"cy","x":-3.2,"y":5.5},{"c":"5","s":"cy","x":-3.2,"y":42.5},{"c":"5","s":"cy","x":-2.9,"y":44.6},{"c":"5","s":"cy","x":-1.7,"y":45.8},{"c":"5","s":"cy","x":0,"y":46.2},

{"c":"10","s":"b","x":0,"y":45.5},{"c":"10","s":"b","x":1.3,"y":45.1},{"c":"10","s":"b","x":2.1,"y":44.1},{"c":"10","s":"b","x":2.3,"y":42.5},{"c":"10","s":"b","x":2.3,"y":4.5},{"c":"10","s":"b","x":2.6,"y":3},{"c":"10","s":"b","x":3.5,"y":2.5},{"c":"10","s":"b","x":42.5,"y":2.5},{"c":"10","s":"b","x":44.1,"y":2.2},{"c":"10","s":"b","x":45.1,"y":1.3},{"c":"10","s":"b","x":45.5,"y":0},
{"c":"10","s":"b","x":45.1,"y":-1.3},{"c":"10","s":"b","x":44.1,"y":-2.2},{"c":"10","s":"b","x":42.5,"y":-2.5},{"c":"10","s":"b","x":3.5,"y":-2.5},{"c":"10","s":"b","x":2.6,"y":-3},{"c":"10","s":"b","x":2.3,"y":-4.5},{"c":"10","s":"b","x":2.3,"y":-42.5},{"c":"10","s":"b","x":2.1,"y":-44.1},{"c":"10","s":"b","x":1.3,"y":-45.1},{"c":"10","s":"b","x":0,"y":-45.5},
{"c":"10","s":"b","x":-1.3,"y":-45.1},{"c":"10","s":"b","x":-2.1,"y":-44.1},{"c":"10","s":"b","x":-2.3,"y":-42.5},{"c":"10","s":"b","x":-2.3,"y":-4.5},{"c":"10","s":"b","x":-2.6,"y":-3},{"c":"10","s":"b","x":-3.5,"y":-2.5},{"c":"10","s":"b","x":-42.5,"y":-2.5},{"c":"10","s":"b","x":-44.1,"y":-2.2},{"c":"10","s":"b","x":-45.1,"y":-1.3},{"c":"10","s":"b","x":-45.5,"y":0},
{"c":"10","s":"b","x":-45.1,"y":1.3},{"c":"10","s":"b","x":-44.1,"y":2.2},{"c":"10","s":"b","x":-42.5,"y":2.5},{"c":"10","s":"b","x":-3.5,"y":2.5},{"c":"10","s":"b","x":-2.6,"y":3},{"c":"10","s":"b","x":-2.3,"y":4.5},{"c":"10","s":"b","x":-2.3,"y":42.5},{"c":"10","s":"b","x":-2.1,"y":44.1},{"c":"10","s":"b","x":-1.3,"y":45.1},{"c":"10","s":"b","x":0,"y":45.5},

{"c":"7","s":"m","x":0,"y":45.8},{"c":"7","s":"m","x":1.4,"y":45.4},{"c":"7","s":"m","x":2.4,"y":44.3},{"c":"7","s":"m","x":2.6,"y":42.5},{"c":"7","s":"m","x":2.6,"y":5},{"c":"7","s":"m","x":2.9,"y":3.4},{"c":"7","s":"m","x":3.9,"y":2.8},{"c":"7","s":"m","x":42.5,"y":2.8},{"c":"7","s":"m","x":44.3,"y":2.5},{"c":"7","s":"m","x":45.4,"y":1.5},{"c":"7","s":"m","x":45.8,"y":0},
{"c":"7","s":"m","x":45.4,"y":-1.5},{"c":"7","s":"m","x":44.3,"y":-2.5},{"c":"7","s":"m","x":42.5,"y":-2.8},{"c":"7","s":"m","x":3.9,"y":-2.8},{"c":"7","s":"m","x":2.9,"y":-3.4},{"c":"7","s":"m","x":2.6,"y":-5},{"c":"7","s":"m","x":2.6,"y":-42.5},{"c":"7","s":"m","x":2.4,"y":-44.3},{"c":"7","s":"m","x":1.4,"y":-45.4},{"c":"7","s":"m","x":0,"y":-45.8},
{"c":"7","s":"m","x":-1.4,"y":-45.4},{"c":"7","s":"m","x":-2.4,"y":-44.3},{"c":"7","s":"m","x":-2.6,"y":-42.5},{"c":"7","s":"m","x":-2.6,"y":-5},{"c":"7","s":"m","x":-2.9,"y":-3.4},{"c":"7","s":"m","x":-3.9,"y":-2.8},{"c":"7","s":"m","x":-42.5,"y":-2.8},{"c":"7","s":"m","x":-44.3,"y":-2.5},{"c":"7","s":"m","x":-45.4,"y":-1.5},{"c":"7","s":"m","x":-45.8,"y":0},
{"c":"7","s":"m","x":-45.4,"y":1.5},{"c":"7","s":"m","x":-44.3,"y":2.5},{"c":"7","s":"m","x":-42.5,"y":2.8},{"c":"7","s":"m","x":-3.9,"y":2.8},{"c":"7","s":"m","x":-2.9,"y":3.4},{"c":"7","s":"m","x":-2.6,"y":5},{"c":"7","s":"m","x":-2.6,"y":42.5},{"c":"7","s":"m","x":-2.4,"y":44.3},{"c":"7","s":"m","x":-1.4,"y":45.4},{"c":"7","s":"m","x":0,"y":45.8},

{"c":"60","s":"d","x":-42.5,"y":0.6},{"c":"60","s":"d","x":-20,"y":0.8},{"c":"60","s":"d","x":-5,"y":0.9},{"c":"60","s":"d","x":-4.4,"y":1.5},{"c":"60","s":"d","x":-3,"y":3},{"c":"60","s":"d","x":-1.5,"y":4.3},{"c":"60","s":"d","x":-0.5,"y":4.8},{"c":"60","s":"d","x":0.5,"y":4.6},{"c":"60","s":"d","x":1.8,"y":3.5},{"c":"60","s":"d","x":3.2,"y":1.4},{"c":"60","s":"d","x":3.5,"y":0.5},{"c":"60","s":"d","x":3.2,"y":-0.4},{"c":"60","s":"d","x":1.8,"y":-2.4},{"c":"60","s":"d","x":0.5,"y":-3.8},{"c":"60","s":"d","x":-0.6,"y":-4.1},{"c":"60","s":"d","x":-1.8,"y":-3.5},{"c":"60","s":"d","x":-3.2,"y":-2},{"c":"60","s":"d","x":-4.4,"y":-0.5},{"c":"60","s":"d","x":-5,"y":0.1},{"c":"60","s":"d","x":-20,"y":0.2},{"c":"60","s":"d","x":-42.5,"y":0.4},{"c":"60","s":"d","x":-42.5,"y":0.6}
]},
"mark":{"type":"line","strokeWidth":1.3,"clip":true},
"encoding":{
"x":{"field":"x","type":"quantitative","scale":{"domain":[-60,60],"nice":false,"zero":false},
 "axis":{"values":[-60,-40,-20,0,20,40,60],"labelExpr":"'' + datum.value","title":null,"grid":true,"gridDash":[3,2],"gridColor":"#000","gridOpacity":1,"gridWidth":1,"domain":false,"ticks":true,"tickSize":-7,"tickColor":"#000","tickWidth":1,"labelFontSize":15,"labelColor":"#1a1a1a","labelPadding":18,"labelFlush":false,"labelOverlap":false}},
"y":{"field":"y","type":"quantitative","scale":{"domain":[-60,60],"nice":false,"zero":false},
 "axis":{"orient":"right","values":[-60,-40,-20,0,20,40,60],"labelExpr":"'' + datum.value","title":"y(m)","titleAngle":0,"titleAlign":"left","titleBaseline":"middle","titleX":79,"titleY":175,"titleFontSize":16,"titleFontWeight":"normal","titleColor":"#1a1a1a","grid":true,"gridDash":[3,2],"gridColor":"#000","gridOpacity":1,"gridWidth":1,"domain":false,"ticks":true,"tickSize":-7,"tickColor":"#000","tickWidth":1,"labelFontSize":15,"labelColor":"#1a1a1a","labelPadding":20,"labelAlign":"left","labelBaseline":"middle","labelFlush":false,"labelOverlap":false}},
"color":{"field":"c","type":"nominal",
 "scale":{"domain":["60","10","7","5","2","1","0.7","0.5","0.2","0.1","0.01"],"range":["#3ccc3c","#2424b8","#cc33cc","#44dddd","#f5f532","#111111","#e2682a","#9a9a9a","#d42a2a","#3ccc3c","#2424b8"]},
 "legend":{"orient":"none","legendX":432,"legendY":-101,"title":null,"symbolType":"M-11.25,0H11.25","symbolSize":16,"symbolStrokeWidth":1.3,"labelFontSize":16,"padding":0,"rowPadding":3.7,"labelLimit":200,
  "encode":{"labels":{"update":{"x":{"value":32},"align":{"value":"right"},"fill":{"scale":"color","field":"value"}}},"symbols":{"update":{"x":{"value":66}}}}}},
"detail":{"field":"s"},
"order":{"value":null}
}
}
